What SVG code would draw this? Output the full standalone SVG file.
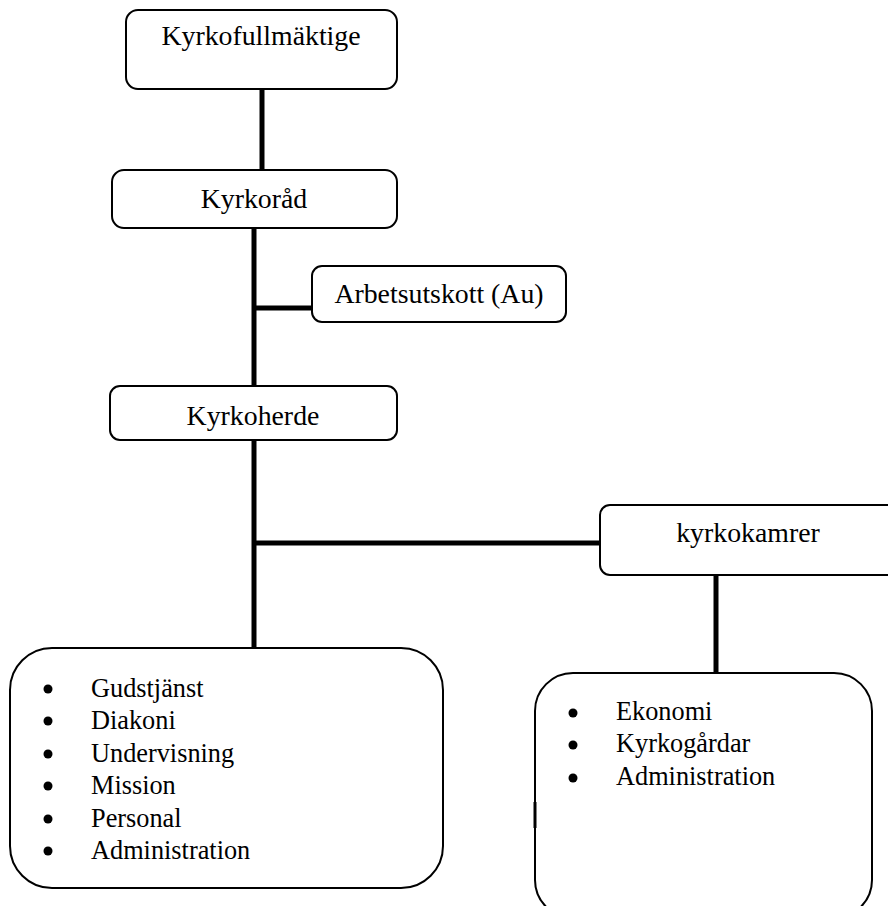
<svg xmlns="http://www.w3.org/2000/svg" width="888" height="906" viewBox="0 0 888 906">
<style>
.box{fill:#fff;stroke:#000;stroke-width:2}
.t{font-family:"Liberation Serif","Times New Roman",serif;font-size:27.8px;fill:#000}
.c{text-anchor:middle}
.li{font-family:"Liberation Serif","Times New Roman",serif;font-size:26.3px;fill:#000}
.conn{stroke:#000;stroke-width:5;fill:none}
</style>
<rect width="888" height="906" fill="#fff"/>
<g id="connectors">
<line class="conn" x1="262" y1="89" x2="262" y2="170"/>
<line class="conn" x1="254" y1="228" x2="254" y2="386"/>
<line class="conn" x1="254" y1="308" x2="312" y2="308"/>
<line class="conn" x1="254" y1="440" x2="254" y2="648"/>
<line class="conn" x1="254" y1="543" x2="600" y2="543"/>
<line class="conn" x1="716" y1="575" x2="716" y2="673"/>
</g>
<g id="kyrkofullmaktige">
<rect class="box" x="126" y="10" width="271" height="79" rx="12"/>
<text class="t c" x="261" y="45">Kyrkofullmäktige</text>
</g>
<g id="kyrkorad">
<rect class="box" x="112" y="170" width="285" height="58" rx="12"/>
<text class="t c" x="254" y="208">Kyrkoråd</text>
</g>
<g id="arbetsutskott">
<rect class="box" x="312" y="266" width="254" height="56" rx="10"/>
<text class="t c" x="439" y="303">Arbetsutskott (Au)</text>
</g>
<g id="kyrkoherde">
<rect class="box" x="110" y="386" width="287" height="54" rx="10"/>
<text class="t c" x="253" y="425">Kyrkoherde</text>
</g>
<g id="kyrkokamrer">
<rect class="box" x="600" y="505" width="300" height="70" rx="10"/>
<text class="t c" x="748" y="542">kyrkokamrer</text>
</g>
<g id="list-left">
<rect class="box" x="10" y="648" width="433" height="240" rx="42"/>
<g fill="#000">
<circle cx="48" cy="689" r="4.5"/>
<circle cx="48" cy="721" r="4.5"/>
<circle cx="48" cy="754" r="4.5"/>
<circle cx="48" cy="786" r="4.5"/>
<circle cx="48" cy="819" r="4.5"/>
<circle cx="48" cy="851" r="4.5"/>
</g>
<text class="li" x="91" y="697">Gudstjänst</text>
<text class="li" x="91" y="729">Diakoni</text>
<text class="li" x="91" y="762">Undervisning</text>
<text class="li" x="91" y="794">Mission</text>
<text class="li" x="91" y="827">Personal</text>
<text class="li" x="91" y="859">Administration</text>
</g>
<g id="list-right">
<rect class="box" x="535" y="673" width="337" height="245" rx="38"/>
<line x1="535" y1="802" x2="535" y2="828" stroke="#000" stroke-width="3"/>
<g fill="#000">
<circle cx="573" cy="713" r="4.5"/>
<circle cx="573" cy="745" r="4.5"/>
<circle cx="573" cy="778" r="4.5"/>
</g>
<text class="li" x="616" y="720">Ekonomi</text>
<text class="li" x="616" y="752">Kyrkogårdar</text>
<text class="li" x="616" y="785">Administration</text>
</g>
</svg>
